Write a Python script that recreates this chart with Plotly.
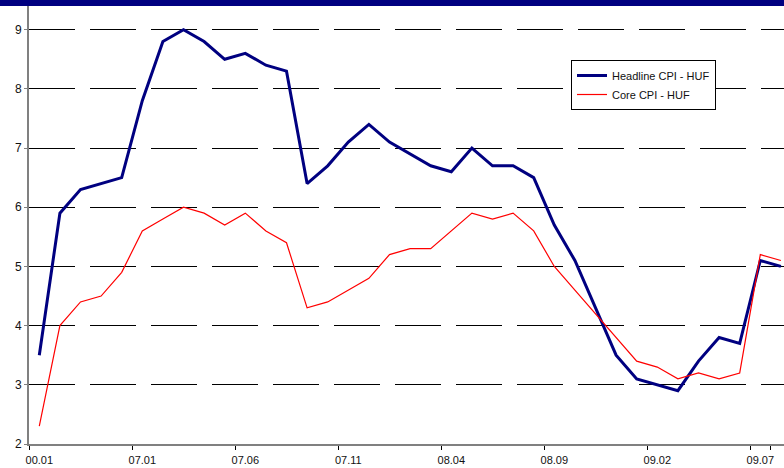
import plotly.graph_objects as go

# Monthly periods (category axis); the first period carries the label "00.01"
periods = [
    "00.01", "06.09", "06.10", "06.11", "06.12",
    "07.01", "07.02", "07.03", "07.04", "07.05", "07.06", "07.07", "07.08",
    "07.09", "07.10", "07.11", "07.12",
    "08.01", "08.02", "08.03", "08.04", "08.05", "08.06", "08.07", "08.08",
    "08.09", "08.10", "08.11", "08.12",
    "09.01", "09.02", "09.03", "09.04", "09.05", "09.06", "09.07", "09.08",
]

headline_cpi = [
    3.5, 5.9, 6.3, 6.4, 6.5, 7.8, 8.8, 9.0, 8.8, 8.5, 8.6, 8.4, 8.3,
    6.4, 6.7, 7.1, 7.4, 7.1, 6.9, 6.7, 6.6, 7.0, 6.7, 6.7, 6.5,
    5.7, 5.1, 4.3, 3.5, 3.1, 3.0, 2.9, 3.4, 3.8, 3.7, 5.1, 5.0,
]

core_cpi = [
    2.3, 4.0, 4.4, 4.5, 4.9, 5.6, 5.8, 6.0, 5.9, 5.7, 5.9, 5.6, 5.4,
    4.3, 4.4, 4.6, 4.8, 5.2, 5.3, 5.3, 5.6, 5.9, 5.8, 5.9, 5.6,
    5.0, 4.6, 4.2, 3.8, 3.4, 3.3, 3.1, 3.2, 3.1, 3.2, 5.2, 5.1,
]

tick_labels = ["00.01", "07.01", "07.06", "07.11", "08.04", "08.09", "09.02", "09.07"]
y_ticks = [2, 3, 4, 5, 6, 7, 8, 9]

FONT = "Arial, Liberation Sans, sans-serif"
W, H = 784, 468
ML, MR, MT, MB = 29, 0, 6, 24
plot_w = W - ML - MR
plot_h = H - MT - MB

fig = go.Figure()
fig.add_trace(go.Scatter(
    x=periods, y=headline_cpi, mode="lines", name="Headline CPI - HUF",
    line=dict(color="#000080", width=3),
))
fig.add_trace(go.Scatter(
    x=periods, y=core_cpi, mode="lines", name="Core CPI - HUF",
    line=dict(color="#FF0000", width=1.2),
))

# navy header band across the top
fig.add_shape(
    type="rect", xref="paper", yref="paper",
    x0=-ML / plot_w, x1=1.0, y0=1.0, y1=1.0 + MT / plot_h + 0.01,
    fillcolor="#000080", line=dict(width=0), layer="above",
)

fig.update_layout(
    width=W, height=H,
    margin=dict(l=ML, r=MR, t=MT, b=MB, pad=0, autoexpand=False),
    paper_bgcolor="white", plot_bgcolor="white",
    font=dict(family=FONT, size=11, color="#111111"),
    showlegend=True,
    legend=dict(
        x=(571 - ML) / plot_w, y=(H - MB - 60) / plot_h,
        xanchor="left", yanchor="top",
        bgcolor="white", bordercolor="black", borderwidth=1,
        font=dict(family=FONT, size=11, color="#111111"),
        itemwidth=30, tracegroupgap=0,
    ),
    xaxis=dict(
        type="category", automargin=False,
        range=[-0.5, -0.5 + plot_w / 20.6],
        tickmode="array", tickvals=tick_labels, ticktext=tick_labels,
        tickson="boundaries", tickangle=0, ticklabelstandoff=5,
        ticks="outside", ticklen=4, tickcolor="#000000", tickwidth=1,
        showgrid=False, zeroline=False,
        showline=True, linecolor="#808080", linewidth=2,
        tickfont=dict(family=FONT, size=11, color="#111111"),
    ),
    yaxis=dict(
        automargin=False,
        range=[2, 9.4],
        tickmode="array", tickvals=y_ticks,
        ticks="outside", ticklen=3, tickcolor="#808080", tickwidth=1,
        showgrid=True, gridcolor="#000000", gridwidth=1, griddash="46px,15px",
        zeroline=False,
        showline=True, linecolor="#808080", linewidth=2,
        tickfont=dict(family=FONT, size=12, color="#111111"),
    ),
)

fig.write_html("out.html")
